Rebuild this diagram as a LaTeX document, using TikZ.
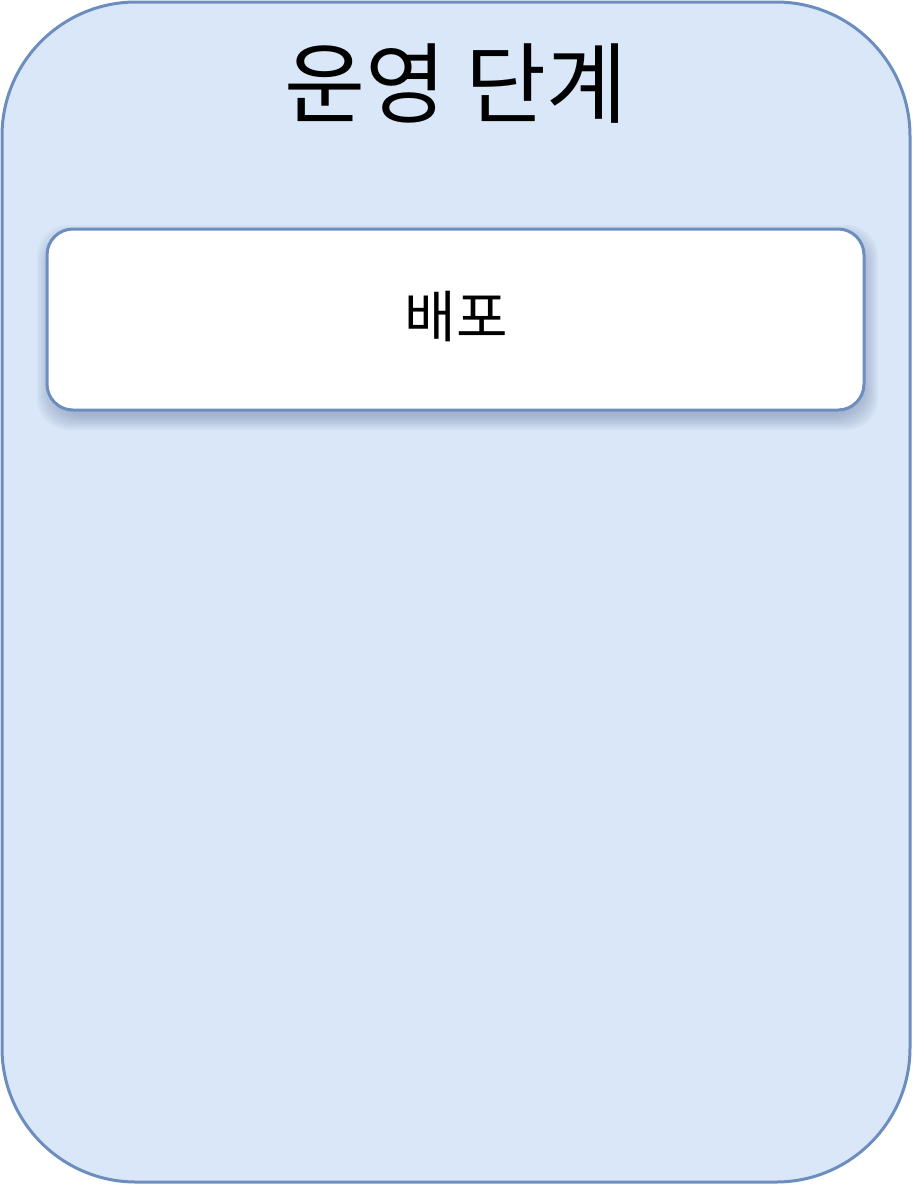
\documentclass[tikz,border=0pt]{standalone}
\usepackage{fontspec}
\newfontfamily\cjk{Noto Sans CJK KR}
\definecolor{outerfill}{HTML}{DAE7F8}
\definecolor{edge}{HTML}{6C8EBF}
\definecolor{shade}{HTML}{5A6F96}
\tikzset{
  px/.style={x=0.5pt,y=-0.5pt},
  container/.style={draw=edge,fill=outerfill,line width=1.5pt,rounded corners=67pt},
  card/.style={draw=edge,fill=white,line width=1.5pt,rounded corners=13pt},
  shadowlayer/.style={fill=shade,fill opacity=0.06,draw=none,rounded corners=16pt},
  title/.style={font=\cjk\fontsize{44}{48}\selectfont,text=black},
  label/.style={font=\cjk\fontsize{28}{32}\selectfont,text=black}
}
\begin{document}
\begin{tikzpicture}[px]
\useasboundingbox (0,0) rectangle (912,1184);
\draw[container] (2,2) rectangle (910,1182);
\node[title] (t) at (456,84) {운영 단계};
\foreach \d in {2,4,...,16}{
  \fill[shadowlayer] (47-\d+6,229-\d+12) rectangle (864+\d-2,410+\d+4);
}
\draw[card] (47,229) rectangle (864,410);
\node[label] (b) at (456,317) {배포};
\end{tikzpicture}
\end{document}
